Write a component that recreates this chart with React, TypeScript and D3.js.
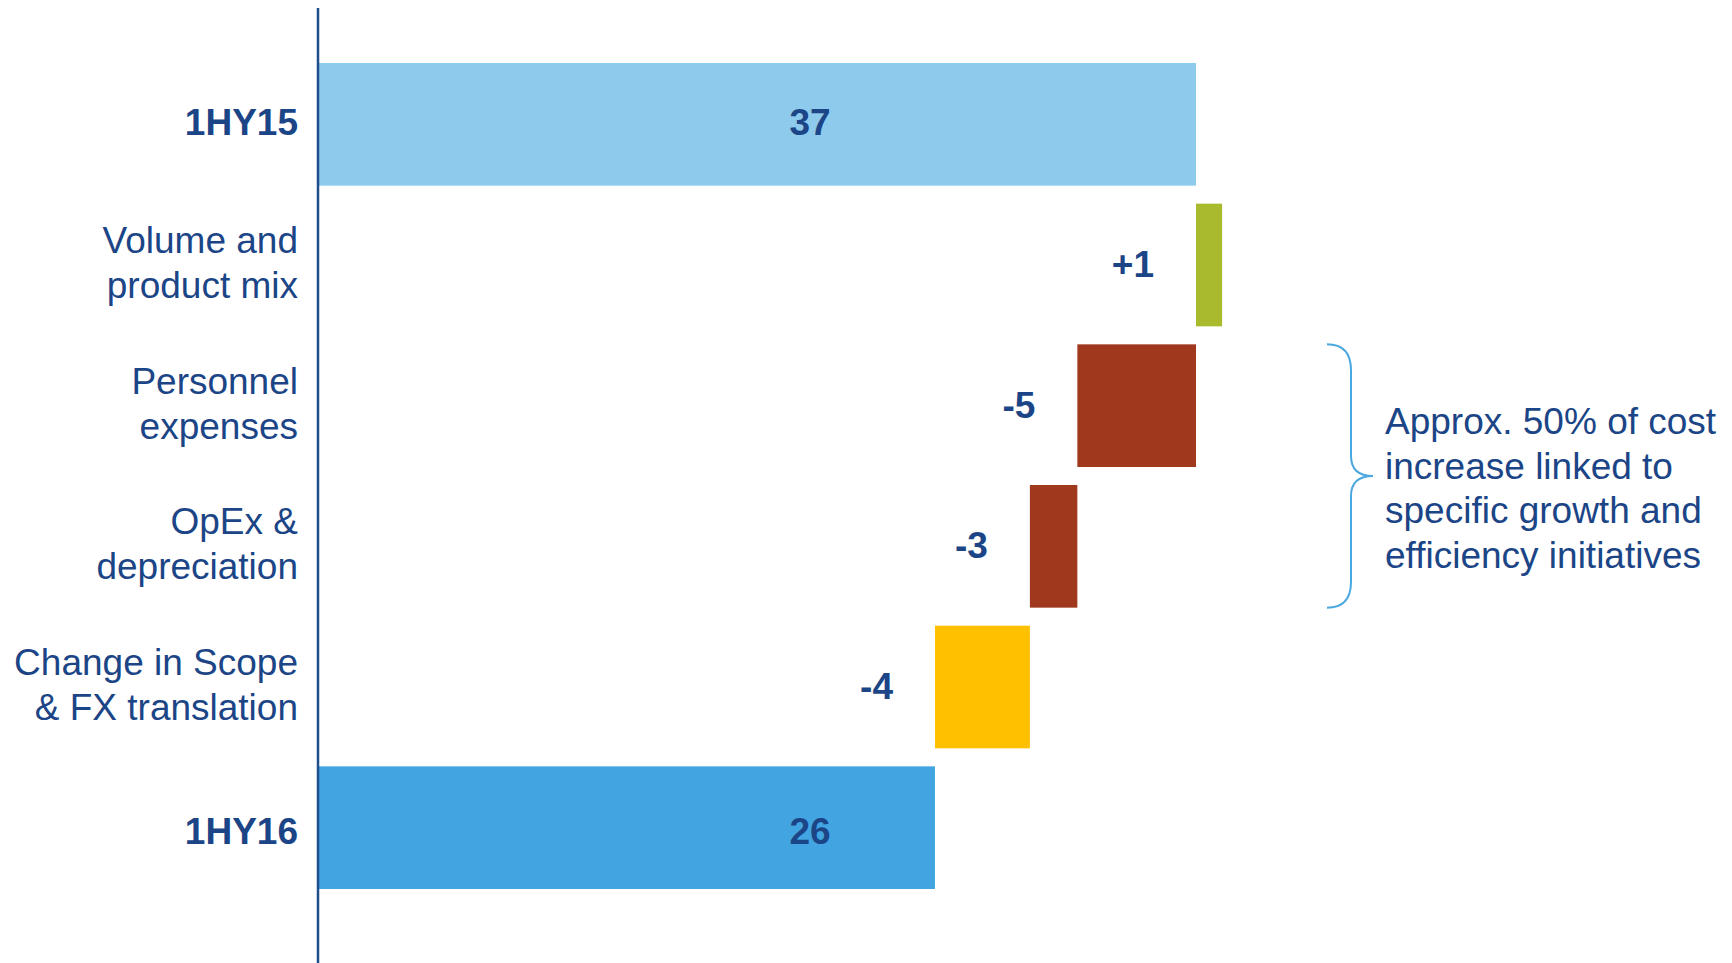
import React from "react";
import * as d3 from "d3";

const categories = [
  "1HY15",
  "Volume and product mix",
  "Personnel expenses",
  "OpEx & depreciation",
  "Change in Scope & FX translation",
  "1HY16",
];
const categoryLines = [
  ["1HY15"],
  ["Volume and", "product mix"],
  ["Personnel", "expenses"],
  ["OpEx &", "depreciation"],
  ["Change in Scope", "& FX translation"],
  ["1HY16"],
];
const barStart = [0, 37, 37, 32, 30, 0];
const barEnd = [37, 38.1, 32, 30, 26, 26];
const valueLabels = ["37", "+1", "-5", "-3", "-4", "26"];
const isTotal = [true, false, false, false, false, true];
const barColors = ["#8ECAEC", "#A9BA2C", "#A0381D", "#A0381D", "#FFC000", "#42A5E1"];
const annotationLines = [
  "Approx. 50% of cost",
  "increase linked to",
  "specific growth and",
  "efficiency initiatives",
];

const W = 1732;
const H = 963;
const TEXT = "#1B4586";
const FONT = "'Liberation Sans', Arial, sans-serif";

export default function App() {
  const x = d3.scaleLinear().domain([0, 37]).range([318, 1196]);
  const y = d3
    .scaleBand<string>()
    .domain(categories)
    .range([54, 898])
    .paddingInner(0.128)
    .paddingOuter(0.064);
  const bw = y.bandwidth();
  const totalLabelX = 810;
  const rowDy = [11, 12, 12, 12, 12, 16];

  const top = y(categories[2])!;
  const bottom = y(categories[3])! + bw;
  const mid = (top + bottom) / 2;
  const bx0 = 1327;
  const bx1 = 1351;
  const tip = 1373;
  const bracket = `M${bx0},${top} C${bx0 + 16},${top} ${bx1},${top + 8} ${bx1},${top + 26}
    L${bx1},${mid - 20} C${bx1},${mid - 6} ${bx1 + 8},${mid} ${tip},${mid}
    C${bx1 + 8},${mid} ${bx1},${mid + 6} ${bx1},${mid + 20}
    L${bx1},${bottom - 26} C${bx1},${bottom - 8} ${bx0 + 16},${bottom} ${bx0},${bottom}`;

  return (
    <svg
      width={W}
      height={H}
      style={{ position: "fixed", left: 0, top: 0, background: "#fff" }}
      fontFamily={FONT}
    >
      {categories.map((c, i) => {
        const y0 = y(c)!;
        const cy = y0 + bw / 2;
        const xa = x(Math.min(barStart[i], barEnd[i]));
        const xb = x(Math.max(barStart[i], barEnd[i]));
        const lines = categoryLines[i];
        return (
          <g key={c}>
            <rect x={xa} y={y0} width={xb - xa} height={bw} fill={barColors[i]} />
            {lines.length === 1 ? (
              <text
                x={298}
                y={cy + rowDy[i]}
                textAnchor="end"
                fontSize={37}
                fontWeight="bold"
                fill={TEXT}
              >
                {lines[0]}
              </text>
            ) : (
              lines.map((l, j) => (
                <text
                  key={j}
                  x={298}
                  y={cy - 12 + j * 45}
                  textAnchor="end"
                  fontSize={37}
                  fill={TEXT}
                >
                  {l}
                </text>
              ))
            )}
            <text
              x={isTotal[i] ? totalLabelX : xa - 42}
              y={cy + rowDy[i]}
              textAnchor={isTotal[i] ? "middle" : "end"}
              fontSize={37}
              fontWeight="bold"
              fill={TEXT}
            >
              {valueLabels[i]}
            </text>
          </g>
        );
      })}
      <line x1={318} x2={318} y1={8} y2={H} stroke="#1F4E8C" strokeWidth={2.5} />
      <path d={bracket} fill="none" stroke="#4AA8E0" strokeWidth={2} />
      {annotationLines.map((l, j) => (
        <text key={j} x={1385} y={434 + j * 44.7} fontSize={37} fill={TEXT}>
          {l}
        </text>
      ))}
    </svg>
  );
}
